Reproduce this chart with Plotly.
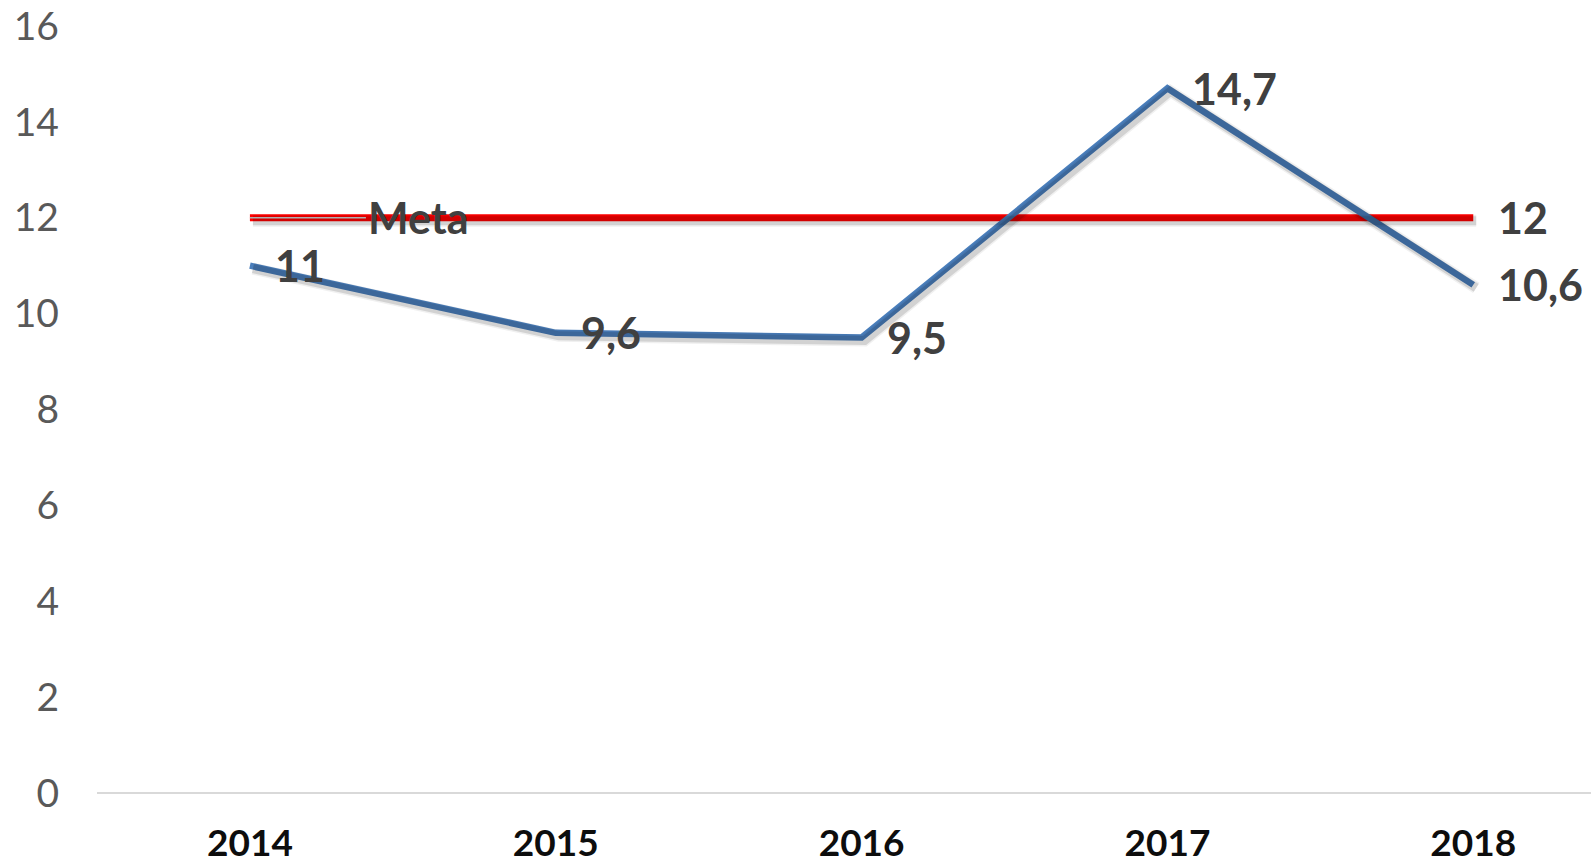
import plotly.graph_objects as go

years = [2014, 2015, 2016, 2017, 2018]
valores = [11, 9.6, 9.5, 14.7, 10.6]
meta = [12, 12, 12, 12, 12]
labels_valores = ["11", "9,6", "9,5", "14,7", "10,6"]
meta_label_final = "12"
meta_nombre = "Meta"
y_ticks = [0, 2, 4, 6, 8, 10, 12, 14, 16]

W, H = 1591, 866
ml, mr, mt, mb = 97, 0, 26, 73
xr = [2013.5, 2018.385]
yr = [0, 16]
pw = W - ml - mr
ph = H - mt - mb
px_x = (xr[1] - xr[0]) / pw
px_y = (yr[1] - yr[0]) / ph

BLUE = "#4A7EBB"
RED = "#FF0000"
FONT = "Lato"
LBL = dict(family=FONT, size=43, color="#404040", weight="bold")

fig = go.Figure()

# soft shadows on offset overlay axes
for w, a in [(12, 0.06), (9, 0.12)]:
    fig.add_trace(go.Scatter(x=years, y=meta, mode="lines", xaxis="x2", yaxis="y2",
                             line=dict(color=f"rgba(0,0,0,{a})", width=w), hoverinfo="skip", showlegend=False))
    fig.add_trace(go.Scatter(x=years, y=valores, mode="lines", xaxis="x2", yaxis="y2",
                             line=dict(color=f"rgba(0,0,0,{a})", width=w), hoverinfo="skip", showlegend=False))

fig.add_trace(go.Scatter(x=years, y=meta, mode="lines", name="Meta",
                         line=dict(color=RED, width=7), showlegend=False))
fig.add_trace(go.Scatter(x=years, y=valores, mode="lines", name="Valor",
                         line=dict(color=BLUE, width=6.5), showlegend=False))

anns = []
for x, y, t in zip(years, valores, labels_valores):
    anns.append(dict(x=x, y=y, text=t, showarrow=False, xanchor="left", yanchor="middle",
                     xshift=23, yshift=0, font=LBL))
anns.append(dict(x=years[-1], y=meta[-1], text=meta_label_final, showarrow=False, xanchor="left",
                 yanchor="middle", xshift=23, font=LBL))
anns.append(dict(x=years[0], y=meta[0], text=meta_nombre, showarrow=True, arrowhead=0, arrowwidth=1.5,
                 arrowcolor="#b0b0b0", ax=116, ay=0, xanchor="left", yanchor="middle", standoff=0,
                 font=LBL))

fig.update_layout(
    width=W, height=H,
    margin=dict(l=ml, r=mr, t=mt, b=mb, autoexpand=False),
    paper_bgcolor="white", plot_bgcolor="white",
    annotations=anns,
    xaxis=dict(range=xr, tickvals=years, ticktext=[str(y) for y in years], showgrid=False,
               zeroline=False, showline=False, ticks="", ticklabelstandoff=25, automargin=False,
               tickfont=dict(family=FONT, size=37, color="#0d0d0d", weight="bold")),
    yaxis=dict(range=yr, tickvals=y_ticks, showgrid=False, zeroline=True, zerolinecolor="#d9d9d9",
               zerolinewidth=2, showline=False, ticks="", ticklabelstandoff=37, automargin=False,
               tickfont=dict(family=FONT, size=39, color="#595959")),
    xaxis2=dict(range=[xr[0] - 3 * px_x, xr[1] - 3 * px_x], overlaying="x", visible=False),
    yaxis2=dict(range=[yr[0] + 3 * px_y, yr[1] + 3 * px_y], overlaying="y", visible=False),
)

fig.write_html("out.html", config={"displayModeBar": False},
               post_script="document.body.style.margin='0';document.body.style.overflow='hidden';")
